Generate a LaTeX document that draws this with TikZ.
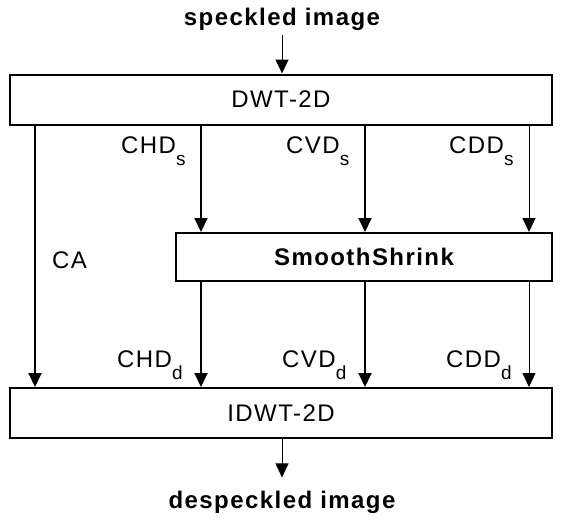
\documentclass[tikz,border=0pt]{standalone}
\usepackage{fontspec}
\setmainfont{Liberation Sans}[LetterSpace=6]
\usetikzlibrary{arrows.meta}
\begin{document}
\begin{tikzpicture}[x=1pt,y=-1pt,
  box/.style={draw, line width=2pt, inner sep=0pt, font=\fontsize{24}{28}\selectfont},
  arr/.style={-{Triangle[length=14pt,width=13pt]}},
  thickln/.style={line width=2pt},
  thinln/.style={line width=1pt},
  lbl/.style={anchor=base west, inner sep=0pt, font=\fontsize{24}{28}\selectfont},
  ttl/.style={anchor=base, inner xsep=0pt, font=\fontsize{24}{28}\selectfont\bfseries}]
\useasboundingbox (0,0) rectangle (564,522);
% columns
\coordinate (cA) at (35,0);
\coordinate (cH) at (201,0);
\coordinate (cV) at (365,0);
\coordinate (cD) at (529,0);
% boxes
\node[box, minimum width=542pt, minimum height=50pt] (dwt) at (281,99.5) {DWT-2D};
\node[box, minimum width=376pt, minimum height=48pt, font=\fontsize{24}{28}\selectfont\bfseries] (ss) at (364,257) {SmoothShrink};
\node[box, minimum width=542pt, minimum height=50pt] (idwt) at (281,413) {IDWT-2D};
% titles
\node[ttl, inner ysep=5pt] (spk) at (282,25) {speckled image};
\node[ttl, inner ysep=13pt] (dsp) at (282,508) {despeckled image};
% labels
\newcommand{\sbs}[1]{\raisebox{-12pt}{\fontsize{19}{19}\selectfont #1}}
\node[lbl] (lchs) at (121,153) {CHD\sbs{s}};
\node[lbl] (lcvs) at (286,153) {CVD\sbs{s}};
\node[lbl] (lcds) at (449,153) {CDD\sbs{s}};
\node[lbl] (lca) at (52,268) {CA};
\node[lbl] (lchd) at (117,367) {CHD\sbs{d}};
\node[lbl] (lcvd) at (282,367) {CVD\sbs{d}};
\node[lbl] (lcdd) at (446,367) {CDD\sbs{d}};
% connectors
\draw[arr,thinln] (spk.south) -- (spk.south |- dwt.north);
\draw[arr,thickln] (dwt.south -| cA) -- (idwt.north -| cA);
\draw[arr,thickln] (dwt.south -| cH) -- (ss.north -| cH);
\draw[arr,thickln] (dwt.south -| cV) -- (ss.north -| cV);
\draw[arr,thinln] (dwt.south -| cD) -- (ss.north -| cD);
\draw[arr,thickln] (ss.south -| cH) -- (idwt.north -| cH);
\draw[arr,thickln] (ss.south -| cV) -- (idwt.north -| cV);
\draw[arr,thinln] (ss.south -| cD) -- (idwt.north -| cD);
\draw[arr,thinln] (dsp.north |- idwt.south) -- (dsp.north);
\end{tikzpicture}
\end{document}
